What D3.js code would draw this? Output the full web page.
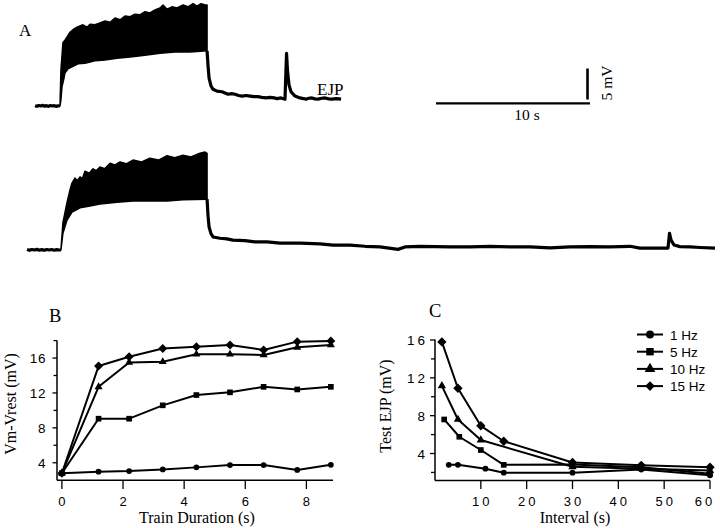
<!DOCTYPE html>
<html><head><meta charset="utf-8">
<script src="https://cdn.jsdelivr.net/npm/d3@7"></script>
<style>body{margin:0;background:#fff}svg{display:block}</style>
</head><body><svg id="c" width="720" height="528"></svg>
<script>
// ---------- Panel B data ----------
const trainDuration = [0, 1.2, 2.2, 3.3, 4.4, 5.5, 6.6, 7.7, 8.8];
const b1Hz  = [2.8, 2.97, 3.05, 3.24, 3.47, 3.74, 3.74, 3.17, 3.77];
const b5Hz  = [2.8, 9.05, 9.05, 10.58, 11.76, 12.07, 12.7, 12.4, 12.7];
const b10Hz = [2.8, 12.7, 15.5, 15.57, 16.43, 16.43, 16.35, 17.23, 17.5];
const b15Hz = [2.8, 15.08, 16.15, 17.1, 17.3, 17.5, 16.93, 17.88, 17.95];
const bXTicks = [0, 2, 4, 6, 8];
const bYTicks = [4, 8, 12, 16];
const bYMinor = [6, 10, 14, 18];

// ---------- Panel C data ----------
const c1HzX  = [3, 5, 11, 15, 30, 45, 60];
const c1HzY  = [2.8, 2.8, 2.4, 1.97, 1.97, 2.3, 1.7];
const c5HzX  = [2, 5.3, 10, 15, 30, 45, 60];
const c5HzY  = [7.6, 5.77, 4.37, 2.8, 2.85, 2.55, 1.85];
const c10HzX = [1.5, 5, 10, 30, 45, 60];
const c10HzY = [11.15, 7.6, 5.42, 2.6, 2.4, 2.2];
const c15HzX = [1.5, 5, 10, 15, 30, 45, 60];
const c15HzY = [15.8, 10.9, 6.93, 5.3, 3.05, 2.75, 2.55];
const cXTicks = [10, 20, 30, 40, 50, 60];
const cYTicks = [4, 8, 12, 16];
const cYMinor = [2, 6, 10, 14];
const legendLabels = ["1 Hz", "5 Hz", "10 Hz", "15 Hz"];

// ---------- Panel A traces (time s, mV above rest) ----------
const topPre = [[-1.62,0.05],[-1.5,-0.05],[-1.38,0.08],[-1.25,0],[-1.12,0.1],[-1.0,-0.04],[-0.88,0.06],[-0.75,-0.06],[-0.62,0.08],[-0.5,0],[-0.38,0.06],[-0.25,-0.06],[-0.12,0.04],[0,0]];
const topUpper = [[0,0],[0.06,5.8],[0.19,10.2],[0.32,10.6],[0.45,11.1],[0.65,11.9],[0.84,12.3],[1.1,12.7],[1.3,12.9],[1.49,13.1],[1.75,12.7],[1.95,13.2],[2.27,13.1],[2.6,13.4],[2.92,13.7],[3.25,13.5],[3.57,14.2],[3.9,13.9],[4.22,14.5],[4.55,14.4],[4.87,14.8],[5.19,14.7],[5.52,15.2],[5.84,15.0],[6.17,15.5],[6.49,15.8],[6.69,16.3],[6.95,15.6],[7.27,16.0],[7.6,15.8],[7.99,16.3],[8.31,16.0],[8.64,16.5],[8.9,16.1],[9.16,16.5],[9.42,16.3],[9.55,16.3]];
const topLower = [[0,0],[0.06,1.0],[0.13,3.1],[0.26,4.5],[0.32,5.3],[0.52,6.0],[0.78,6.3],[1.17,6.8],[1.62,6.9],[2.27,7.3],[2.92,7.4],[3.7,7.7],[4.55,7.9],[5.52,8.2],[6.49,8.5],[7.47,8.7],[8.44,8.7],[9.55,8.9]];
const topPost = [[9.55,8.9],[9.61,6.6],[9.68,4.5],[9.81,3.2],[9.94,2.7],[10.19,2.4],[10.52,2.3],[10.91,1.9],[11.15,2.0],[11.36,1.9],[11.6,1.7],[11.82,1.6],[12.1,1.7],[12.34,1.6],[12.6,1.5],[12.86,1.5],[13.1,1.4],[13.38,1.3],[13.65,1.4],[13.9,1.3],[14.1,1.2],[14.35,1.3],[14.61,1.1],[14.71,8.5],[14.77,5.8],[14.87,3.4],[15.0,2.3],[15.26,1.6],[15.58,1.3],[15.8,1.2],[15.97,1.1],[16.15,1.25],[16.36,1.3],[16.55,1.15],[16.75,1.1],[17.0,1.25],[17.21,1.3],[17.45,1.15],[17.66,1.1],[17.95,1.2],[18.25,1.1]];

const botPre = [[-2.14,0.1],[-1.98,-0.05],[-1.82,0.08],[-1.66,0],[-1.5,0.1],[-1.34,-0.04],[-1.18,0.06],[-1.02,-0.05],[-0.86,0.08],[-0.7,0],[-0.54,0.08],[-0.38,-0.04],[-0.22,0.06],[-0.06,0],[0.06,0]];
const botUpper = [[0.06,0],[0.19,4.4],[0.45,7.6],[0.65,9.7],[0.78,10.8],[0.97,11.6],[1.13,11.2],[1.3,11.8],[1.45,11.5],[1.62,12.7],[1.9,12.4],[2.14,13.1],[2.35,12.8],[2.6,13.4],[2.9,13.1],[3.25,14.0],[3.55,13.7],[3.9,14.2],[4.3,13.9],[4.74,14.5],[5.3,14.2],[5.84,14.8],[6.4,14.5],[6.95,15.2],[7.45,14.9],[7.99,15.3],[8.5,15.0],[9.09,15.6],[9.42,15.8],[9.55,15.6]];
const botLower = [[0.06,0],[0.19,2.7],[0.45,4.8],[0.78,6.1],[1.3,6.8],[1.95,7.1],[2.6,7.4],[3.7,7.7],[4.74,7.9],[6.95,7.9],[7.99,8.1],[9.55,8.2]];
const botPost = [[9.55,8.2],[9.61,5.6],[9.68,3.7],[9.81,2.6],[9.94,2.1],[10.39,1.9],[10.84,1.8],[11.23,1.6],[12.01,1.5],[12.66,1.3],[13.44,1.3],[14.29,1.1],[15.58,1.1],[16.88,1.0],[17.73,0.8],[18.83,0.8],[19.81,0.6],[20.78,0.5],[21.95,0.1],[22.4,0.5],[23.38,0.6],[24.35,0.55],[25.32,0.5],[26.62,0.5],[27.92,0.6],[29.22,0.5],[30.52,0.5],[31.82,0.35],[33.12,0.5],[34.42,0.55],[35.71,0.5],[37.01,0.6],[37.66,0.3],[38.64,0.3],[39.48,0.3],[39.58,2.7],[39.68,1.6],[39.87,0.8],[40.26,0.55],[40.91,0.5],[41.56,0.4],[42.53,0.3]];

const svg = d3.select("#c");
const SANS = "'Liberation Sans', Arial, sans-serif";
const SERIF = "'Liberation Serif', 'Times New Roman', serif";

// ---------- Panel A ----------
const xA = d3.scaleLinear().domain([0, 10]).range([60, 214]);
const yTop = d3.scaleLinear().domain([0, 5]).range([106, 75]);
const yBot = d3.scaleLinear().domain([0, 5]).range([250, 219]);

function drawTrace(pre, upper, lower, post, y) {
  const ln = d3.line().x(d => xA(d[0])).y(d => y(d[1]));
  const band = upper.concat(lower.slice().reverse());
  svg.append("path").attr("d", ln(band) + "Z").attr("fill", "#000").attr("stroke", "#000").attr("stroke-width", 1.5).attr("stroke-linejoin", "round");
  [pre, post].forEach(seg => svg.append("path").attr("d", ln(seg)).attr("fill", "none").attr("stroke", "#000").attr("stroke-width", 3.2).attr("stroke-linejoin", "round"));
}
drawTrace(topPre, topUpper, topLower, topPost, yTop);
drawTrace(botPre, botUpper, botLower, botPost, yBot);

svg.append("text").attr("x", 19).attr("y", 36).attr("font-family", SERIF).attr("font-size", 17).text("A");
svg.append("text").attr("x", 317).attr("y", 95).attr("font-family", SERIF).attr("font-size", 17).text("EJP");

// scale bars
const barLenX = xA(10) - xA(0);
const barLenY = yTop(0) - yTop(5);
svg.append("line").attr("x1", 436).attr("x2", 436 + barLenX).attr("y1", 103.3).attr("y2", 103.3).attr("stroke", "#000").attr("stroke-width", 2.2);
svg.append("line").attr("x1", 587.5).attr("x2", 587.5).attr("y1", 99.5).attr("y2", 99.5 - barLenY).attr("stroke", "#000").attr("stroke-width", 2.6);
svg.append("text").attr("x", 527).attr("y", 120).attr("text-anchor", "middle").attr("font-family", SERIF).attr("font-size", 15.5).text("10 s");
svg.append("text").attr("transform", "translate(612,83) rotate(-90)").attr("text-anchor", "middle").attr("font-family", SERIF).attr("font-size", 15.5).text("5 mV");

// ---------- marker helpers ----------
const sym = {
  circle: d3.symbolCircle, square: d3.symbolSquare, triangle: d3.symbolTriangle, diamond: d3.symbolSquare
};
function rot(type) { return type === "diamond" ? " rotate(45)" : ""; }
function markers(g, xs, ys, x, y, type, size) {
  g.selectAll(null).data(xs.map((v, i) => [v, ys[i]])).join("path")
    .attr("transform", d => `translate(${x(d[0])},${y(d[1])})` + rot(type))
    .attr("d", d3.symbol(sym[type], size)).attr("fill", "#000");
}
function series(g, xs, ys, x, y, type, size) {
  const pts = xs.map((v, i) => [v, ys[i]]);
  g.append("path").attr("d", d3.line().x(d => x(d[0])).y(d => y(d[1]))(pts))
    .attr("fill", "none").attr("stroke", "#000").attr("stroke-width", 2).attr("stroke-linejoin", "round");
  markers(g, xs, ys, x, y, type, size);
}

// ---------- Panel B ----------
const xB = d3.scaleLinear().domain([-0.16, 8.87]).range([57, 333]);
const yB = d3.scaleLinear().domain([2, 18]).range([480.2, 340.6]);
const gB = svg.append("g");
gB.append("line").attr("x1", 57).attr("x2", 333).attr("y1", 480.2).attr("y2", 480.2).attr("stroke", "#000").attr("stroke-width", 1.5);
gB.append("line").attr("x1", 57).attr("x2", 57).attr("y1", 480.2).attr("y2", 340.6).attr("stroke", "#000").attr("stroke-width", 1.5);
bXTicks.forEach(t => {
  gB.append("line").attr("x1", xB(t)).attr("x2", xB(t)).attr("y1", 480.2).attr("y2", 489).attr("stroke", "#000").attr("stroke-width", 1.3);
  gB.append("text").attr("x", xB(t)).attr("y", 506).attr("text-anchor", "middle").attr("font-family", SANS).attr("font-size", 13).text(t);
});
bYTicks.forEach(t => {
  gB.append("line").attr("x1", 52.5).attr("x2", 57).attr("y1", yB(t)).attr("y2", yB(t)).attr("stroke", "#000").attr("stroke-width", 1.3);
  gB.append("text").attr("x", 46).attr("y", yB(t) + 5).attr("text-anchor", "end").attr("font-family", SANS).attr("font-size", 13.5).attr("letter-spacing", 0.6).text(t);
});
bYMinor.forEach(t => {
  gB.append("line").attr("x1", 53.5).attr("x2", 57).attr("y1", yB(t)).attr("y2", yB(t)).attr("stroke", "#000").attr("stroke-width", 1.3);
});
series(gB, trainDuration, b1Hz, xB, yB, "circle", 26);
series(gB, trainDuration, b5Hz, xB, yB, "square", 32);
series(gB, trainDuration, b10Hz, xB, yB, "triangle", 28);
series(gB, trainDuration, b15Hz, xB, yB, "diamond", 40);
svg.append("text").attr("x", 49).attr("y", 322).attr("font-family", SERIF).attr("font-size", 18.5).text("B");
svg.append("text").attr("x", 197).attr("y", 523).attr("text-anchor", "middle").attr("font-family", SERIF).attr("font-size", 16).text("Train Duration (s)");
svg.append("text").attr("transform", "translate(16,404) rotate(-90)").attr("text-anchor", "middle").attr("font-family", SERIF).attr("font-size", 16).text("Vm-Vrest (mV)");

// ---------- Panel C ----------
const xC = d3.scaleLinear().domain([0, 60]).range([435, 710]);
const yC = d3.scaleLinear().domain([1.2, 16]).range([480, 340]);
const gC = svg.append("g");
gC.append("line").attr("x1", 435).attr("x2", 710).attr("y1", 480.5).attr("y2", 480.5).attr("stroke", "#000").attr("stroke-width", 1.5);
gC.append("line").attr("x1", 435).attr("x2", 435).attr("y1", 480.5).attr("y2", 339.5).attr("stroke", "#000").attr("stroke-width", 1.5);
cXTicks.forEach(t => {
  gC.append("line").attr("x1", xC(t)).attr("x2", xC(t)).attr("y1", 480.5).attr("y2", 489).attr("stroke", "#000").attr("stroke-width", 1.3);
  gC.append("text").attr("x", Math.min(xC(t) + 1.5, 705)).attr("y", 506).attr("text-anchor", "middle").attr("font-family", SANS).attr("font-size", 13).attr("letter-spacing", 3).text(t);
});
cYTicks.forEach(t => {
  gC.append("line").attr("x1", 430).attr("x2", 435).attr("y1", yC(t)).attr("y2", yC(t)).attr("stroke", "#000").attr("stroke-width", 1.3);
  gC.append("text").attr("x", 428).attr("y", yC(t) + 5).attr("text-anchor", "end").attr("font-family", SANS).attr("font-size", 13.5).attr("letter-spacing", 3).text(t);
});
cYMinor.forEach(t => {
  gC.append("line").attr("x1", 431).attr("x2", 435).attr("y1", yC(t)).attr("y2", yC(t)).attr("stroke", "#000").attr("stroke-width", 1.3);
});
series(gC, c1HzX, c1HzY, xC, yC, "circle", 26);
series(gC, c5HzX, c5HzY, xC, yC, "square", 32);
series(gC, c10HzX, c10HzY, xC, yC, "triangle", 30);
series(gC, c15HzX, c15HzY, xC, yC, "diamond", 44);
svg.append("text").attr("x", 429).attr("y", 317).attr("font-family", SERIF).attr("font-size", 18.5).text("C");
svg.append("text").attr("x", 575).attr("y", 523).attr("text-anchor", "middle").attr("font-family", SERIF).attr("font-size", 16).text("Interval (s)");
svg.append("text").attr("transform", "translate(391,406) rotate(-90)").attr("text-anchor", "middle").attr("font-family", SERIF).attr("font-size", 16).text("Test EJP (mV)");

// legend
const legTypes = ["circle", "square", "triangle", "diamond"];
const legSizes = [50, 55, 50, 46];
legendLabels.forEach((lab, i) => {
  const y = 334.5 + i * 17.2;
  svg.append("line").attr("x1", 637).attr("x2", 663).attr("y1", y).attr("y2", y).attr("stroke", "#000").attr("stroke-width", 2);
  svg.append("path").attr("transform", `translate(650,${y})` + rot(legTypes[i])).attr("d", d3.symbol(sym[legTypes[i]], legSizes[i])).attr("fill", "#000");
  svg.append("text").attr("x", 670).attr("y", y + 5).attr("font-family", SANS).attr("font-size", 13.5).text(lab);
});
</script></body></html>
